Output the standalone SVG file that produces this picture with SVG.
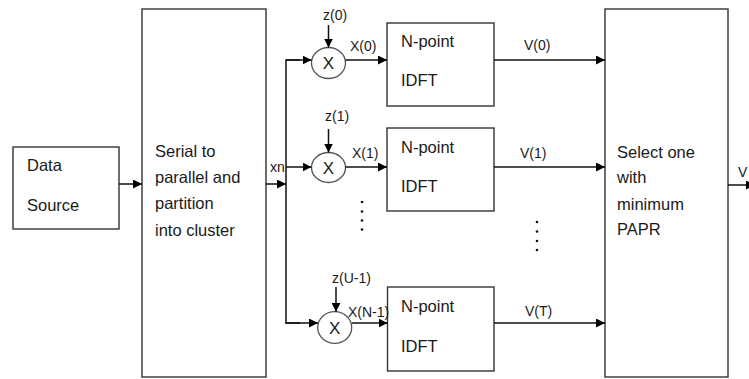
<svg xmlns="http://www.w3.org/2000/svg" width="749" height="379" viewBox="0 0 749 379">
  <defs>
    <marker id="arr" viewBox="0 0 10 10" refX="10" refY="5" markerWidth="9" markerHeight="9" markerUnits="userSpaceOnUse" orient="auto">
      <path d="M0,0 L10,5 L0,10 z" fill="#000"/>
    </marker>
    <style>
      .box { fill: #fff; stroke: #333; stroke-width: 1.4; }
      .circ { fill: #fff; stroke: #555; stroke-width: 1.3; }
      .ln { fill: none; stroke: #111; stroke-width: 1.5; }
      .ar { fill: none; stroke: #111; stroke-width: 1.5; marker-end: url(#arr); }
      .t { font-family: "Liberation Sans", Arial, sans-serif; font-size: 16.5px; fill: #1a1a1a; }
      .x { font-family: "Liberation Sans", Arial, sans-serif; font-size: 17px; fill: #1a1a1a; }
      .s { font-family: "Liberation Sans", Arial, sans-serif; font-size: 14px; fill: #1a1a1a; }
      .dot { fill: #111; }
    </style>
  </defs>
  <rect width="749" height="379" fill="#fff"/>

  <g id="data-source">
    <rect class="box" x="13" y="147" width="106" height="82"/>
    <text class="t" x="27" y="171">Data</text>
    <text class="t" x="27" y="211">Source</text>
  </g>

  <g id="serial-to-parallel">
    <rect class="box" x="142" y="9" width="124" height="368"/>
    <text class="t" x="155" y="157">Serial to</text>
    <text class="t" x="155" y="183">parallel and</text>
    <text class="t" x="155" y="209">partition</text>
    <text class="t" x="155" y="236">into cluster</text>
  </g>

  <g id="mult-0">
    <ellipse class="circ" cx="328.5" cy="63" rx="17" ry="15.5"/>
    <text class="x" x="328.5" y="69" text-anchor="middle">X</text>
  </g>
  <g id="mult-1">
    <ellipse class="circ" cx="328.5" cy="167.5" rx="17" ry="15"/>
    <text class="x" x="328.5" y="173.5" text-anchor="middle">X</text>
  </g>
  <g id="mult-2">
    <ellipse class="circ" cx="334.7" cy="327.5" rx="17" ry="15.8"/>
    <text class="x" x="334.7" y="333.5" text-anchor="middle">X</text>
  </g>

  <g id="idft-0">
    <rect class="box" x="387" y="23" width="107" height="83"/>
    <text class="t" x="401" y="47">N-point</text>
    <text class="t" x="401" y="86">IDFT</text>
  </g>
  <g id="idft-1">
    <rect class="box" x="387" y="128" width="107" height="83"/>
    <text class="t" x="401" y="153">N-point</text>
    <text class="t" x="401" y="192">IDFT</text>
  </g>
  <g id="idft-2">
    <rect class="box" x="387.5" y="287" width="106.5" height="84"/>
    <text class="t" x="401" y="312">N-point</text>
    <text class="t" x="401" y="352">IDFT</text>
  </g>

  <g id="select-min-papr">
    <rect class="box" x="605" y="9" width="123" height="368"/>
    <text class="t" x="617" y="158">Select one</text>
    <text class="t" x="617" y="183">with</text>
    <text class="t" x="617" y="210">minimum</text>
    <text class="t" x="617" y="235">PAPR</text>
  </g>

  <g id="connectors">
    <line class="ar" x1="119" y1="184" x2="142" y2="184"/>
    <line class="ar" x1="266" y1="184" x2="286" y2="184"/>
    <text class="s" x="270" y="172">xn</text>
    <line class="ln" x1="286" y1="60" x2="286" y2="323.5"/>
    <line class="ln" x1="285.25" y1="60" x2="300" y2="60"/>
    <line class="ar" x1="286" y1="60" x2="311.5" y2="60"/>
    <line class="ar" x1="286" y1="167" x2="311.5" y2="167"/>
    <line class="ln" x1="285.25" y1="323" x2="300" y2="323"/>
    <line class="ar" x1="286" y1="323" x2="318" y2="323"/>

    <line class="ar" x1="328.5" y1="25" x2="328.5" y2="47.5"/>
    <text class="s" x="323" y="20">z(0)</text>
    <line class="ar" x1="328.5" y1="129" x2="328.5" y2="152.5"/>
    <text class="s" x="325" y="121">z(1)</text>
    <line class="ar" x1="336" y1="287" x2="336" y2="311.8"/>
    <text class="s" x="332" y="283">z(U-1)</text>

    <line class="ar" x1="345.5" y1="60" x2="387" y2="60"/>
    <text class="s" x="350" y="51">X(0)</text>
    <line class="ar" x1="345.5" y1="167" x2="387" y2="167"/>
    <text class="s" x="352" y="158">X(1)</text>
    <line class="ar" x1="351.7" y1="323" x2="387.5" y2="323"/>
    <text class="s" x="348" y="317">X(N-1)</text>

    <line class="ar" x1="494" y1="60" x2="605" y2="60"/>
    <text class="s" x="524" y="50">V(0)</text>
    <line class="ar" x1="494" y1="167" x2="605" y2="167"/>
    <text class="s" x="520" y="158">V(1)</text>
    <line class="ar" x1="494" y1="323" x2="605" y2="323"/>
    <text class="s" x="525" y="316">V(T)</text>

    <line class="ar" x1="728" y1="185" x2="755" y2="185"/>
    <text class="s" x="738" y="177">V</text>

    <circle class="dot" cx="362" cy="202" r="1.3"/>
    <circle class="dot" cx="362" cy="211.5" r="1.3"/>
    <circle class="dot" cx="362" cy="220.5" r="1.3"/>
    <circle class="dot" cx="362" cy="229.5" r="1.3"/>
    <circle class="dot" cx="537" cy="222" r="1.3"/>
    <circle class="dot" cx="537" cy="231.5" r="1.3"/>
    <circle class="dot" cx="537" cy="241" r="1.3"/>
    <circle class="dot" cx="537" cy="250" r="1.3"/>
  </g>
</svg>
